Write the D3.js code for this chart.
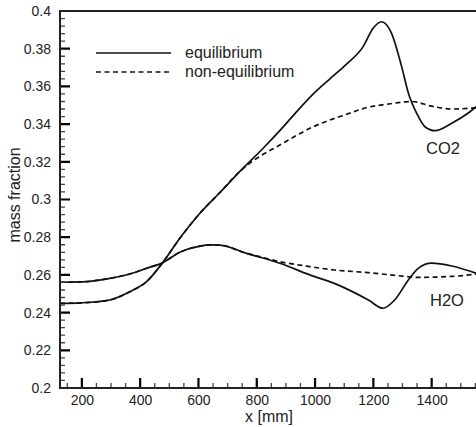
<!DOCTYPE html>
<html>
<head>
<meta charset="utf-8">
<script src="https://cdn.jsdelivr.net/npm/d3@7"></script>
<style>
  body { margin: 0; background: #fff; }
  svg { display: block; font-family: "Liberation Sans", Arial, sans-serif; }
</style>
</head>
<body>
<svg id="svg" width="476" height="427"></svg>
<script>
// x positions in mm
const co2EqX   = [125, 200, 296, 365, 422, 477, 536, 605, 673, 753, 822, 879, 937, 994, 1051, 1108, 1165, 1199, 1228, 1262, 1297, 1320, 1348, 1377, 1411, 1469, 1527, 1559];
const co2EqY   = [0.2449, 0.2452, 0.2467, 0.2511, 0.2564, 0.2665, 0.2794, 0.2927, 0.3036, 0.3166, 0.3272, 0.3365, 0.3466, 0.3560, 0.3640, 0.3718, 0.3811, 0.3908, 0.3943, 0.3883, 0.3705, 0.3565, 0.3459, 0.3386, 0.3365, 0.3405, 0.346, 0.350];
const co2NeqX  = [125, 200, 296, 365, 422, 477, 536, 605, 673, 740, 776, 879, 994, 1108, 1183, 1245, 1331, 1400, 1469, 1559];
const co2NeqY  = [0.2449, 0.2452, 0.2467, 0.2511, 0.2564, 0.2665, 0.2794, 0.2927, 0.3036, 0.3146, 0.3192, 0.3289, 0.3386, 0.3452, 0.349, 0.3505, 0.352, 0.3495, 0.348, 0.3487];
const h2oEqX   = [125, 200, 296, 365, 422, 477, 536, 605, 639, 673, 765, 879, 982, 1066, 1183, 1233, 1273, 1320, 1354, 1400, 1469, 1559];
const h2oEqY   = [0.2561, 0.2563, 0.2582, 0.2605, 0.2635, 0.2665, 0.2720, 0.2753, 0.2759, 0.2758, 0.2714, 0.2662, 0.260, 0.2555, 0.2467, 0.2423, 0.2467, 0.2573, 0.2635, 0.2662, 0.2647, 0.2605];
const h2oNeqX  = [125, 200, 296, 365, 422, 477, 536, 605, 639, 673, 765, 822, 879, 970, 1066, 1183, 1297, 1354, 1469, 1559];
const h2oNeqY  = [0.2561, 0.2563, 0.2582, 0.2605, 0.2635, 0.2665, 0.2720, 0.2753, 0.2759, 0.2758, 0.2714, 0.2692, 0.267, 0.2647, 0.2626, 0.2612, 0.2594, 0.2587, 0.2592, 0.2605];

const xTicks = [200, 400, 600, 800, 1000, 1200, 1400];
const yTicks = [0.2, 0.22, 0.24, 0.26, 0.28, 0.3, 0.32, 0.34, 0.36, 0.38, 0.4];
const legendLabels = ['equilibrium', 'non-equilibrium'];
const speciesLabels = ['CO2', 'H2O'];

const svg = d3.select('#svg');
const padLeft = 60, padTop = 11, padBottom = 388;

const x = d3.scaleLinear().domain([125, 1600]).range([padLeft, padLeft + 1475 * 0.2915]);
const y = d3.scaleLinear().domain([0.2, 0.4]).range([padBottom, padTop]);

//------ tick labels ------
const xAxis = svg.append('g')
  .attr('transform', `translate(0,${padBottom})`)
  .call(d3.axisBottom(x).tickValues(xTicks).tickSize(0).tickPadding(6.5).tickFormat(d3.format('d')));
xAxis.select('.domain').remove();
xAxis.selectAll('text').attr('font-size', 14).attr('fill', '#222').attr('dy', '0.75em');

const yAxis = svg.append('g')
  .attr('transform', `translate(${padLeft},0)`)
  .call(d3.axisLeft(y).tickValues(yTicks).tickSize(0).tickPadding(9).tickFormat(d => String(+d.toFixed(2))));
yAxis.select('.domain').remove();
yAxis.selectAll('text').attr('font-size', 14).attr('fill', '#222');

//------ curves ------
svg.append('defs').append('clipPath').attr('id', 'clip')
  .append('rect').attr('x', padLeft).attr('y', padTop).attr('width', 480).attr('height', padBottom - padTop);

const line = d3.line()
  .x(d => x(d[0]))
  .y(d => y(d[1]))
  .curve(d3.curveMonotoneX);

const series = [
  { xs: co2EqX, ys: co2EqY, dash: null },
  { xs: co2NeqX, ys: co2NeqY, dash: '5,3.5' },
  { xs: h2oEqX, ys: h2oEqY, dash: null },
  { xs: h2oNeqX, ys: h2oNeqY, dash: '5,3.5' }
];

const plot = svg.append('g').attr('clip-path', 'url(#clip)');
series.forEach(s => {
  plot.append('path')
    .datum(s.xs.map((v, i) => [v, s.ys[i]]))
    .attr('fill', 'none')
    .attr('stroke', '#111')
    .attr('stroke-width', 1.7)
    .attr('stroke-dasharray', s.dash)
    .attr('d', line);
});

//------ ticks (inward, one path each, from the scales) ------
const xMinor = d3.range(150, 1600, 50).filter(v => !xTicks.includes(v));
const yMinor = d3.range(0, 50).map(i => +(0.2 + i * 0.004).toFixed(3)).filter(v => v < 0.4 && !yTicks.some(t => Math.abs(t - v) < 1e-6));

const minorPath = xMinor.map(v => `M${x(v)},${padBottom}v-5`).join('') +
  yMinor.map(v => `M${padLeft},${y(v)}h5`).join('');
const majorPath = xTicks.map(v => `M${x(v)},${padBottom}v-10`).join('') +
  yTicks.map(v => `M${padLeft},${y(v)}h10`).join('');

svg.append('path')
  .attr('d', minorPath)
  .attr('fill', 'none')
  .attr('stroke', '#444')
  .attr('stroke-width', 1.3);

svg.append('path')
  .attr('d', majorPath)
  .attr('fill', 'none')
  .attr('stroke', '#000')
  .attr('stroke-width', 2.2);

//------ frame ------
svg.append('path')
  .attr('d', `M${x(1600)},${padTop}H${padLeft}V${padBottom}H${x(1600)}`)
  .attr('fill', 'none')
  .attr('stroke', '#222')
  .attr('stroke-width', 2);

//------ legend ------
const legend = svg.append('g');
legendLabels.forEach((lab, i) => {
  const ly = 53 + i * 19;
  legend.append('line')
    .attr('x1', 96).attr('x2', 171)
    .attr('y1', ly).attr('y2', ly)
    .attr('stroke', '#111')
    .attr('stroke-width', 1.7)
    .attr('stroke-dasharray', i === 0 ? null : '5,3.5');
  legend.append('text')
    .attr('x', 185).attr('y', ly + 4.8)
    .attr('font-size', 16)
    .attr('fill', '#222')
    .text(lab);
});

//------ labels ------
svg.append('text')
  .attr('x', 443).attr('y', 154)
  .attr('text-anchor', 'middle')
  .attr('font-size', 16.5)
  .attr('fill', '#222')
  .text(speciesLabels[0]);

svg.append('text')
  .attr('x', 447).attr('y', 306)
  .attr('text-anchor', 'middle')
  .attr('font-size', 16.5)
  .attr('fill', '#222')
  .text(speciesLabels[1]);

svg.append('text')
  .attr('x', 269).attr('y', 422)
  .attr('text-anchor', 'middle')
  .attr('font-size', 16)
  .attr('fill', '#222')
  .text('x [mm]');

svg.append('text')
  .attr('transform', 'translate(20,195) rotate(-90)')
  .attr('text-anchor', 'middle')
  .attr('font-size', 16)
  .attr('fill', '#222')
  .text('mass fraction');
</script>
</body>
</html>
